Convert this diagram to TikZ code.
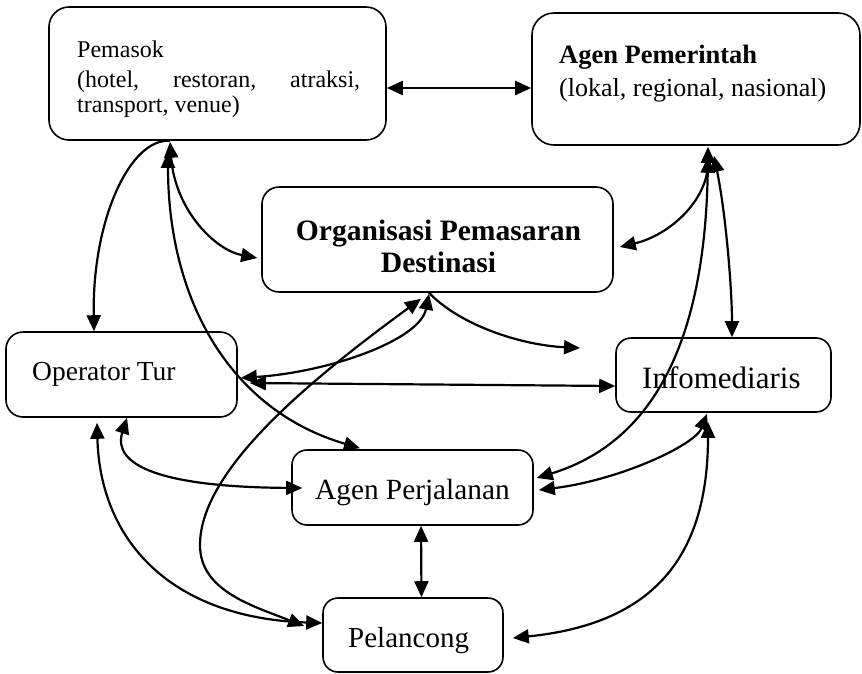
\documentclass[tikz,border=0pt]{standalone}
\usepackage{fontspec}
\setmainfont{Liberation Serif}
\usetikzlibrary{arrows.meta,calc}

\tikzset{
  box/.style={draw, line width=1.6pt, inner sep=0pt, rounded corners=#1},
  box/.default=15pt,
  lbl/.style={inner sep=0pt, anchor=base west},
  mid/.style={inner sep=0pt, anchor=base},
  link/.style={line width=2.2pt},
  >={Triangle[length=16pt,width=14pt]}
}
\newcommand{\fs}[1]{\fontsize{#1}{#1}\selectfont}

\begin{document}
\begin{tikzpicture}[x=1pt,y=-1pt]
\useasboundingbox (0,0) rectangle (862,673);

% boxes
\node[box=20pt, minimum width=337pt, minimum height=133pt] (pem) at (217.5,73.5) {};
\node[box=22pt, minimum width=328pt, minimum height=132pt] (gov) at (696,79) {};
\node[box=17pt, minimum width=351pt, minimum height=105pt] (dmo) at (437.5,239.5) {};
\node[box=17pt, minimum width=231pt, minimum height=85pt] (ops) at (121.5,374.5) {};
\node[box, minimum width=215pt, minimum height=74pt] (inf) at (723.5,375) {};
\node[box, minimum width=241pt, minimum height=75pt] (agt) at (412.5,487.5) {};
\node[box, minimum width=180pt, minimum height=74pt] (pel) at (413,635) {};

% labels
\node[lbl] (pemA) at (77,57) {\fs{24}Pemasok};
\node[lbl] (pemB) at (77,87) {\fs{24}\hbox to 283pt{(hotel,\hfill restoran,\hfill atraksi,}};
\node[lbl] (pemC) at (77,112) {\fs{24}transport, venue)};
\node[lbl] (govA) at (559,63) {\fs{26.5}\bfseries Agen Pemerintah};
\node[lbl] (govB) at (559,96) {\fs{26}(lokal, regional, nasional)};
\node[mid] (dmoA) at (438.5,240) {\fs{29.6}\bfseries Organisasi Pemasaran};
\node[mid] (dmoB) at (438.5,272) {\fs{29.6}\bfseries Destinasi};
\node[lbl] (opsA) at (32,380) {\fs{27.5}Operator Tur};
\node[lbl] (infA) at (642,388) {\fs{31}Infomediaris};
\node[lbl] (agtA) at (315,499) {\fs{29.3}Agen Perjalanan};
\node[lbl] (pelA) at (348,647) {\fs{29}Pelancong};

\coordinate (dmoout) at (580,348);

% connectors
\draw[link,<->] ($(pem.east)+(0,14.5)$) -- ($(gov.west)+(0,9)$);
\draw[link,->] ($(pem.south)+(-47.5,0)$) .. controls (130,138) and (92,220) .. ($(ops.north)+(-27.5,0)$);
\draw[link,<->] ($(pem.south)+(-47.5,1)$) .. controls (175,210) and (215,250) .. ($(dmo.west)+(-4,18.5)$);
\draw[link,<->] ($(pem.south)+(-49.5,11)$) .. controls (168,300) and (230,410) .. ($(agt.north)+(-52.5,-1)$);
\draw[link,<->] ($(dmo.south)+(-8.5,1)$) .. controls (420,340) and (330,372) .. ($(ops.east)+(3,3.5)$);
\draw[link,<->] ($(dmo.south)+(-16.5,6)$) .. controls (310,380) and (200,470) .. (200,545)
                 .. controls (200,590) and (250,605) .. ($(pel.west)+(-18,-9)$);
\draw[link,->] ($(dmo.south)+(-8.5,0)$) .. controls (460,325) and (520,345) .. (dmoout);
\draw[link,<->] ($(ops.east)+(12,8.5)$) -- ($(inf.west)+(0,11)$);
\draw[link,<->] ($(ops.south)+(5.5,0)$) .. controls (112,465) and (160,487) .. ($(agt.west)+(11,0.5)$);
\draw[link,<->] ($(ops.south)+(-24.5,5)$) .. controls (100,540) and (170,618) .. ($(pel.west)+(0,-12)$);
\draw[link,<->] ($(agt.south)+(8.5,0)$) -- ($(pel.north)+(8.5,0)$);
\draw[link,<->] ($(gov.south)+(12,1)$) .. controls (708,200) and (670,235) .. ($(dmo.east)+(6,7.5)$);
\draw[link,<->] ($(gov.south)+(12,11)$) .. controls (705,330) and (660,440) .. ($(agt.east)+(3,-9.5)$);
\draw[link,<->] ($(gov.south)+(18,10)$) .. controls (726,215) and (732,290) .. ($(inf.north)+(8.5,0)$);
\draw[link,<->] ($(inf.south)+(-16.5,1)$) .. controls (695,445) and (620,480) .. ($(agt.east)+(5,2.5)$);
\draw[link,<->] ($(inf.south)+(-15.5,9)$) .. controls (708,570) and (640,625) .. ($(pel.east)+(9,3)$);
\end{tikzpicture}
\end{document}
